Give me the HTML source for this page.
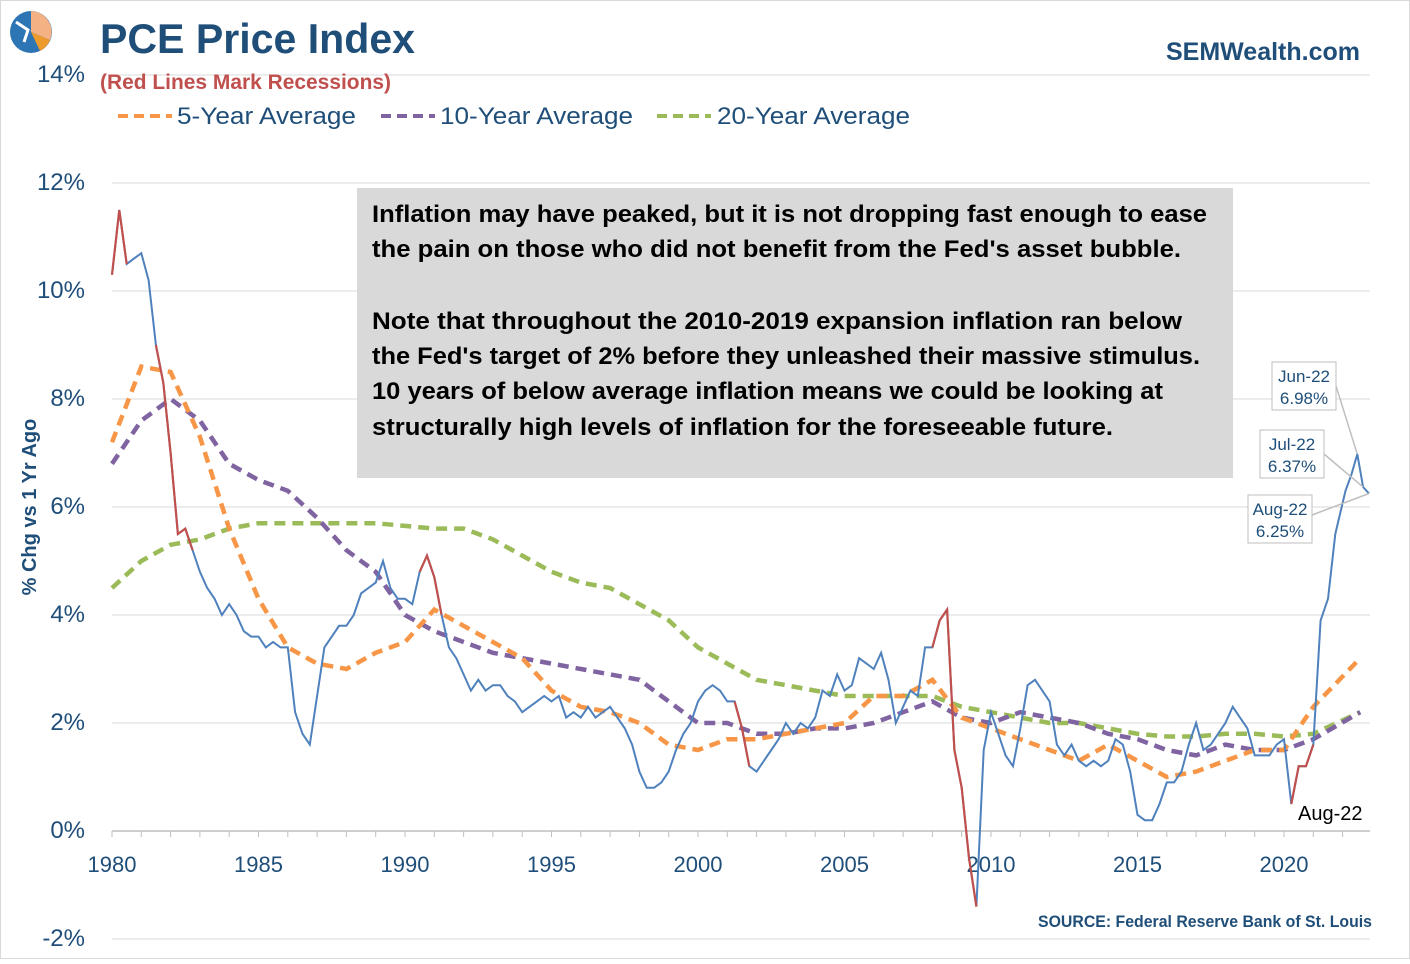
<!DOCTYPE html>
<html><head><meta charset="utf-8"><style>
body{margin:0;background:#fff;font-family:"Liberation Sans",sans-serif;}
svg text{font-family:"Liberation Sans",sans-serif;}
</style></head><body>
<svg id="chart" width="1410" height="959" viewBox="0 0 1410 959">
<rect x="0.5" y="0.5" width="1409" height="958" fill="#fff" stroke="#d9d9d9"/>
<g id="grid"></g>
<g id="ylabels"></g>
<g id="xlabels"></g>
<g id="series"></g>
<g>
<circle cx="31" cy="32" r="21" fill="#2e75b6"/>
<path d="M31 32 L31 11 A21 21 0 0 1 50 40 Z" fill="#f4b183"/>
<path d="M31 32 L50 40 A21 21 0 0 1 40 51 Z" fill="#ed9b2d"/>
<path d="M16 22 L28 30 L24 42" stroke="#fff" stroke-width="3" fill="none"/>
</g>
<text x="100" y="53" font-size="42" font-weight="bold" fill="#1f4e79" textLength="315" lengthAdjust="spacingAndGlyphs">PCE Price Index</text>
<text x="100" y="89" font-size="21" font-weight="bold" fill="#c0504d" textLength="291" lengthAdjust="spacingAndGlyphs">(Red Lines Mark Recessions)</text>
<text x="1360" y="60" font-size="25" font-weight="bold" fill="#1f4e79" text-anchor="end">SEMWealth.com</text>
<g>
<g><line x1="118" y1="116" x2="172" y2="116" stroke="#f79646" stroke-width="4" stroke-dasharray="10,6"/><text x="177" y="124" font-size="24" fill="#1f4e79" textLength="179" lengthAdjust="spacingAndGlyphs">5-Year Average</text></g>
<g><line x1="381" y1="116" x2="435" y2="116" stroke="#8064a2" stroke-width="4" stroke-dasharray="10,6"/><text x="440" y="124" font-size="24" fill="#1f4e79" textLength="193" lengthAdjust="spacingAndGlyphs">10-Year Average</text></g>
<g><line x1="657" y1="116" x2="711" y2="116" stroke="#9bbb59" stroke-width="4" stroke-dasharray="10,6"/><text x="717" y="124" font-size="24" fill="#1f4e79" textLength="193" lengthAdjust="spacingAndGlyphs">20-Year Average</text></g>
</g>
<text transform="translate(36,507) rotate(-90)" font-size="20" font-weight="bold" fill="#1f4e79" text-anchor="middle">% Chg vs 1 Yr Ago</text>
<g>
<rect x="357" y="188" width="876" height="290" fill="#d9d9d9"/>
<g font-size="24" font-weight="bold" fill="#000" lengthAdjust="spacingAndGlyphs">
<text x="372" y="222" textLength="835" lengthAdjust="spacingAndGlyphs">Inflation may have peaked, but it is not dropping fast enough to ease</text>
<text x="372" y="257" textLength="809" lengthAdjust="spacingAndGlyphs">the pain on those who did not benefit from the Fed's asset bubble.</text>
<text x="372" y="329" textLength="810" lengthAdjust="spacingAndGlyphs">Note that throughout the 2010-2019 expansion inflation ran below</text>
<text x="372" y="364" textLength="828" lengthAdjust="spacingAndGlyphs">the Fed's target of 2% before they unleashed their massive stimulus.</text>
<text x="372" y="399" textLength="791" lengthAdjust="spacingAndGlyphs">10 years of below average inflation means we could be looking at</text>
<text x="372" y="435" textLength="741" lengthAdjust="spacingAndGlyphs">structurally high levels of inflation for the foreseeable future.</text>
</g></g>
<text x="1038" y="927" font-size="17" font-weight="bold" fill="#1f4e79" textLength="334" lengthAdjust="spacingAndGlyphs">SOURCE:  Federal Reserve Bank of St. Louis</text>
<text x="1298" y="820" font-size="20" fill="#000">Aug-22</text>
<g id="callouts"></g>
</svg>
<script>
const yTicks=[-2,0,2,4,6,8,10,12,14];
const xTicks=[1980,1985,1990,1995,2000,2005,2010,2015,2020];
const pce=[10.3,11.5,10.5,10.6,10.7,10.2,9.0,8.3,7.0,5.5,5.6,5.2,4.8,4.5,4.3,4.0,4.2,4.0,3.7,3.6,3.6,3.4,3.5,3.4,3.4,2.2,1.8,1.6,2.5,3.4,3.6,3.8,3.8,4.0,4.4,4.5,4.6,5.0,4.5,4.3,4.3,4.2,4.8,5.1,4.7,4.0,3.4,3.2,2.9,2.6,2.8,2.6,2.7,2.7,2.5,2.4,2.2,2.3,2.4,2.5,2.4,2.5,2.1,2.2,2.1,2.3,2.1,2.2,2.3,2.1,1.9,1.6,1.1,0.8,0.8,0.9,1.1,1.5,1.8,2.0,2.4,2.6,2.7,2.6,2.4,2.4,1.9,1.2,1.1,1.3,1.5,1.7,2.0,1.8,2.0,1.9,2.1,2.6,2.5,2.9,2.6,2.7,3.2,3.1,3.0,3.3,2.8,2.0,2.3,2.6,2.5,3.4,3.4,3.9,4.1,1.5,0.8,-0.5,-1.4,1.5,2.2,1.8,1.4,1.2,1.9,2.7,2.8,2.6,2.4,1.6,1.4,1.6,1.3,1.2,1.3,1.2,1.3,1.7,1.6,1.1,0.3,0.2,0.2,0.5,0.9,0.9,1.1,1.6,2.0,1.5,1.6,1.8,2.0,2.3,2.1,1.9,1.4,1.4,1.4,1.6,1.7,0.5,1.2,1.2,1.6,3.9,4.3,5.5,6.3,6.6,6.98,6.37,6.25];
const recessions=[[1980.0,1980.6],[1981.5,1982.9],[1990.5,1991.25],[2001.2,2001.9],[2007.9,2009.5],[2020.1,2021.0]];
const avgYears=[1980,1981,1982,1983,1984,1985,1986,1987,1988,1989,1990,1991,1992,1993,1994,1995,1996,1997,1998,1999,2000,2001,2002,2003,2004,2005,2006,2007,2008,2009,2010,2011,2012,2013,2014,2015,2016,2017,2018,2019,2020,2021,2022.6];
const avg5=[7.2,8.6,8.5,7.3,5.6,4.3,3.4,3.1,3.0,3.3,3.5,4.1,3.8,3.5,3.2,2.6,2.3,2.2,2.0,1.6,1.5,1.7,1.7,1.8,1.9,2.0,2.5,2.5,2.8,2.1,1.9,1.7,1.5,1.3,1.6,1.3,1.0,1.1,1.3,1.5,1.5,2.3,3.2];
const avg10=[6.8,7.6,8.0,7.6,6.8,6.5,6.3,5.8,5.2,4.8,4.0,3.7,3.5,3.3,3.2,3.1,3.0,2.9,2.8,2.4,2.0,2.0,1.8,1.8,1.9,1.9,2.0,2.2,2.4,2.1,2.0,2.2,2.1,2.0,1.8,1.7,1.5,1.4,1.6,1.5,1.5,1.7,2.2];
const avg20=[4.5,5.0,5.3,5.4,5.6,5.7,5.7,5.7,5.7,5.7,5.65,5.6,5.6,5.4,5.1,4.8,4.6,4.5,4.2,3.9,3.4,3.1,2.8,2.7,2.6,2.5,2.5,2.5,2.5,2.3,2.2,2.1,2.0,2.0,1.9,1.8,1.75,1.75,1.8,1.8,1.75,1.8,2.2];
const callLabels=["Jun-22","Jul-22","Aug-22"];
const callValues=[6.98,6.37,6.25];

const NS="http://www.w3.org/2000/svg";
const X=t=>112+(t-1980)*29.3;
const Y=v=>831-v*54;
function mk(tag,attrs,parent){const e=document.createElementNS(NS,tag);for(const k in attrs)e.setAttribute(k,attrs[k]);parent.appendChild(e);return e;}
const grid=document.getElementById('grid'),yl=document.getElementById('ylabels'),xl=document.getElementById('xlabels'),ser=document.getElementById('series');
yTicks.forEach(v=>{
  const l=mk('line',{x1:112,x2:1370,y1:Y(v),y2:Y(v),stroke:'#d9d9d9','stroke-width':1},grid);
  
  
  const t=mk('text',{x:85,y:Y(v)+7,'font-size':24,fill:'#1f4e79','text-anchor':'end'},yl);
  t.textContent=v+'%';
  
  
});
const ax=mk('line',{x1:112,x2:1370,y1:Y(0),y2:Y(0),stroke:'#bfbfbf','stroke-width':1.5},grid);


for(let yr=1980;yr<=2022;yr++){const tk=mk('line',{x1:X(yr),x2:X(yr),y1:Y(0),y2:Y(0)+6,stroke:'#bfbfbf'},grid);}
xTicks.forEach(yr=>{
  const t=mk('text',{x:X(yr),y:872,'font-size':22,fill:'#1f4e79','text-anchor':'middle'},xl);
  t.textContent=yr;
  
  
});
function path(ts,vs){return ts.map((t,i)=>(i?'L':'M')+X(t).toFixed(1)+' '+Y(vs[i]).toFixed(1)).join(' ');}
[[avg20,'#9bbb59','avg-20yr-line'],[avg10,'#8064a2','avg-10yr-line'],[avg5,'#f79646','avg-5yr-line']].forEach(([d,c,n])=>{
  const p=mk('path',{d:path(avgYears,d),stroke:c,'stroke-width':4.5,'stroke-dasharray':'11,7',fill:'none'},ser);
  
  
});
const pt=pce.map((v,i)=>i<168?1980+i*0.25:2022+(i-168)*0.2+0.1);
const mp=mk('path',{d:path(pt,pce),stroke:'#4f81bd','stroke-width':2,fill:'none'},ser);


recessions.forEach(([a,b])=>{
  const ts=[],vs=[];pt.forEach((t,i)=>{if(t>=a-0.01&&t<=b+0.01){ts.push(t);vs.push(pce[i]);}});
  if(ts.length>1){const r=mk('path',{d:path(ts,vs),stroke:'#c0504d','stroke-width':2.2,fill:'none'},ser);
  
  }
});
const co=document.getElementById('callouts');
const boxes=[[1272,362],[1260,430],[1248,495]];
callLabels.forEach((lab,i)=>{
  const [bx,by]=boxes[i];
  const ci=pt.length-3+i;
  const g=mk('g',{},co);
  
  
  mk('line',{x1:bx+64,y1:by+(i==2?20:24),x2:X(pt[ci]),y2:Y(callValues[i]),stroke:'#bfbfbf','stroke-width':1.5},g);
  mk('rect',{x:bx,y:by,width:64,height:48,fill:'#fff',stroke:'#bfbfbf'},g);
  const t1=mk('text',{x:bx+32,y:by+20,'font-size':17,fill:'#1f4e79','text-anchor':'middle'},g);t1.textContent=lab;
  const t2=mk('text',{x:bx+32,y:by+42,'font-size':17,fill:'#1f4e79','text-anchor':'middle'},g);t2.textContent=callValues[i].toFixed(2)+'%';
});
</script>
</body></html>
